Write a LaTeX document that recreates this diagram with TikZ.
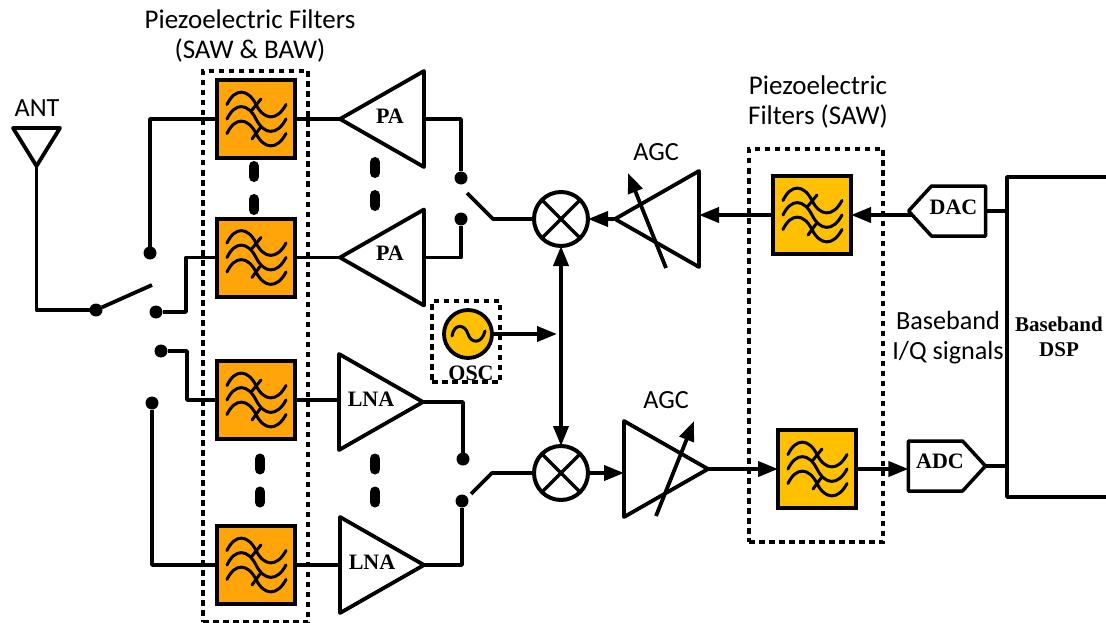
\documentclass[tikz,border=0pt]{standalone}
\usepackage{fontspec}
\setmainfont{Carlito}
\newfontfamily\serifb[BoldFont={Liberation Serif Bold}]{Liberation Serif}
\usetikzlibrary{arrows.meta,shapes.geometric,shapes.symbols}
\definecolor{filtorange}{HTML}{FFA50A}
\definecolor{filtyellow}{HTML}{FFC000}
\tikzstyle{filtro}=[draw, line width=4, minimum size=78, inner sep=0, outer sep=0,
  path picture={
    \begin{scope}[shift={(path picture bounding box.center)}, line width=3, line cap=round]
      \foreach \d in {-14.5,0,14.5}
        \draw (-29,\d) .. controls (-21,\d-17) and (-8,\d-16) .. (0,\d)
          .. controls (8,\d+16) and (21,\d+17) .. (30,\d);
      \draw (-4,-9) -- (5,-20);
      \draw (-4,20) -- (4,9);
    \end{scope}}]
\tikzstyle{ampl}=[draw, line width=3.8, isosceles triangle, isosceles triangle stretches,
  minimum width=96, minimum height=84, inner sep=0, outer sep=0, line join=round]
\tikzstyle{etiqueta}=[font=\serifb\fontsize{22}{25}\selectfont\bfseries, align=center, inner sep=0]
\tikzstyle{texto}=[font=\fontsize{26.2}{30}\selectfont, align=center, inner sep=0]
\tikzstyle{conv}=[draw, line width=3.5, signal, signal from=nowhere, signal pointer angle=95,
  minimum width=77, minimum height=50, inner sep=0, outer sep=0, line join=round]
\tikzstyle{punto}=[circle, fill=black, minimum size=13, inner sep=0, outer sep=0]
\tikzstyle{mezcla}=[draw, circle, line width=4, minimum size=54, inner sep=0, outer sep=0,
  path picture={
    \draw[line width=3.5] (path picture bounding box.north west) -- (path picture bounding box.south east);
    \draw[line width=3.5] (path picture bounding box.north east) -- (path picture bounding box.south west);}]
\tikzstyle{caja}=[draw, line width=3.2, dash pattern=on 5.5pt off 4.5pt, inner sep=0, outer sep=0]
\tikzstyle{wire}=[draw, line width=3.8, line join=round]
\tikzstyle{line}=[draw, line width=3.8, -{Triangle[length=20pt,width=15pt]}]
\tikzstyle{dline}=[draw, line width=3.8, {Triangle[length=20pt,width=15pt]}-{Triangle[length=20pt,width=15pt]}]
\newcommand{\puntos}[2]{%
  \draw[line width=10, line cap=round] (#1,#2-22) -- (#1,#2-11);
  \draw[line width=10, line cap=round] (#1,#2+11) -- (#1,#2+22);}

\begin{document}
\begin{tikzpicture}[x=1pt,y=-1pt]
  \useasboundingbox (0,0) rectangle (1106,623);

  % Filter banks
  \path (256,119) node (f1) [filtro, fill=filtorange] {};
  \path (f1)+(0,138.5) node (f2) [filtro, fill=filtorange] {};
  \path (f2)+(0,142.5) node (f3) [filtro, fill=filtorange] {};
  \path (f3)+(0,165) node (f4) [filtro, fill=filtorange] {};
  \path (812,215) node (f5) [filtro, fill=filtyellow] {};
  \path (f5)+(5,254) node (f6) [filtro, fill=filtyellow] {};

  \path (255.5,346.5) node (box1) [caja, minimum width=105, minimum height=551] {};
  \path (816,345.5) node (box2) [caja, minimum width=134, minimum height=393] {};
  \path (466,341.5) node (box3) [caja, minimum width=68, minimum height=81] {};

  % Amplifiers
  \path (f1.east)+(45,0) node (pa1) [ampl, anchor=apex, shape border rotate=180] {};
  \path (f2.east)+(45,0) node (pa2) [ampl, anchor=apex, shape border rotate=180] {};
  \path (423,402) node (lna1) [ampl, anchor=apex] {};
  \path (424,565) node (lna2) [ampl, anchor=apex] {};
  \path (pa1.apex)+(50,-3) node (t1) [etiqueta] {PA};
  \path (pa2.apex)+(50,-4) node (t2) [etiqueta] {PA};
  \path (lna1.apex)+(-52,-3) node (t3) [etiqueta] {LNA};
  \path (lna2.apex)+(-52,-3) node (t4) [etiqueta] {LNA};

  % Mixers and oscillator
  \path (561,219) node (mx1) [mezcla] {};
  \path (mx1)+(0,254) node (mx2) [mezcla] {};
  \path (615,219) node (agc1) [ampl, anchor=apex, shape border rotate=180] {};
  \path (708,469) node (agc2) [ampl, anchor=apex] {};
  \path (468,334) node (osc) [draw, circle, line width=3.8, fill=filtyellow, minimum size=48, inner sep=0, outer sep=0,
    path picture={\draw[line width=3, line cap=round, shift={(path picture bounding box.center)}]
      (-16,2) .. controls (-14,-11) and (-3,-10) .. (0,0) .. controls (3,10) and (14,10) .. (17,-3);}] {};
  \path (osc.south)+(3,15) node (osct) [etiqueta] {OSC};
  \path (osc.east)+(65,0) coordinate (j1);

  % Converters and DSP
  \path (958.5,211) node (dac) [conv, signal to=west] {};
  \path (935.5,466) node (adc) [conv, signal to=east] {};
  \path (dac)+(-5,-4) node (t5) [etiqueta] {DAC};
  \path (adc)+(4.5,-5) node (t6) [etiqueta] {ADC};
  \path (1056.5,337) node (dsp) [minimum width=99, minimum height=320, inner sep=0, outer sep=0] {};
  \path (dsp)+(2.5,0) node (t7) [etiqueta, font=\serifb\fontsize{21}{25}\selectfont\bfseries] {Baseband\\DSP};

  % Antenna and switch contacts
  \path (36.5,166) node (ant) [draw, line width=3.8, isosceles triangle, isosceles triangle stretches, shape border rotate=270,
    anchor=apex, minimum width=47, minimum height=38, inner sep=0, outer sep=0, line join=round] {};
  \path (96,310) node (s0) [punto] {};
  \path (150,253) node (s1) [punto] {};
  \path (156,312) node (s2) [punto] {};
  \path (161,351) node (s3) [punto] {};
  \path (152,403) node (s4) [punto] {};
  \path (461,178) node (s5) [punto] {};
  \path (461,219) node (s6) [punto] {};
  \path (463,459) node (s7) [punto] {};
  \path (462,501) node (s8) [punto] {};
  \path (152,285) coordinate (a0);
  \path (467,193) coordinate (a1);
  \path (471,494) coordinate (a2);

  % Draw labels
  \path (250,36) node (l1) [texto, font=\fontsize{27}{30}\selectfont] {Piezoelectric Filters\\(SAW \& BAW)};
  \path (818,102) node (l2) [texto, font=\fontsize{27}{30}\selectfont] {Piezoelectric\\Filters (SAW)};
  \path (948,338) node (l3) [texto] {Baseband\\I/Q signals};
  \path (37,108) node (l4) [texto] {ANT};
  \path (656,152) node (l5) [texto] {AGC};
  \path (666,400) node (l6) [texto] {AGC};

  % Draw wires
  \path [wire] (ant.apex) |- (s0);
  \path [wire] (s0) -- (a0);
  \path [wire] (f1.west) -| (s1);
  \path [wire] (s2) -- +(30,0) |- (f2.west);
  \path [wire] (s3) -- +(26,0) |- (f3.west);
  \path [wire] (s4) |- (f4.west);

  \path [wire] (f1.east) -- (pa1.apex);
  \path [wire] (f2.east) -- (pa2.apex);
  \path [wire] (f3.east) -- (lna1.lower side |- f3.east);
  \path [wire] (f4.east) -- (lna2.lower side |- f4.east);

  \path [wire] (pa1.lower side) -| (s5);
  \path [wire] (pa2.lower side) -| (s6);
  \path [wire] (lna1.apex) -| (s7);
  \path [wire] (lna2.apex) -| (s8);

  \path [wire] (a1) -- +(26,26) -- (mx1.west);
  \path [wire] (a2) -- +(21,-21) -- (mx2.west);

  % Draw arrows between elements
  \path [dline] (mx1) -- (mx2);
  \path [line] (osc.east) -- (j1);
  \path [line] (agc1.apex) -- (mx1.east);
  \path [line] (mx2.east) -- (agc2.lower side |- mx2.east);
  \path [line] (f5.west) -- (agc1.lower side |- f5.west);
  \path [line] (dac.west |- f5.east)+(3,0) -- (f5.east);
  \path [line] (agc2.apex) -- (f6.west);
  \path [line] (f6.east) -- (adc.west |- f6.east);
  \path [wire] (dac.east) -- (dsp.west |- dac.east);
  \path [wire] (adc.east) -- (dsp.west |- adc.east);
  \path [wire] (dsp.north east) -- (dsp.north west) -- (dsp.south west) -- (dsp.south east);

  % Gain control arrows
  \path (agc1.apex)+(51,49) coordinate (g1a);
  \path (agc1.apex)+(13,-46) coordinate (g1b);
  \path (agc2.apex)+(-52,47) coordinate (g2a);
  \path (agc2.apex)+(-14,-48) coordinate (g2b);
  \path [line] (g1a) -- (g1b);
  \path [line] (g2a) -- (g2b);

  % Dots between branches
  \puntos{254}{188}
  \puntos{375}{184}
  \puntos{260}{480.5}
  \puntos{375}{480.5}
\end{tikzpicture}
\end{document}
